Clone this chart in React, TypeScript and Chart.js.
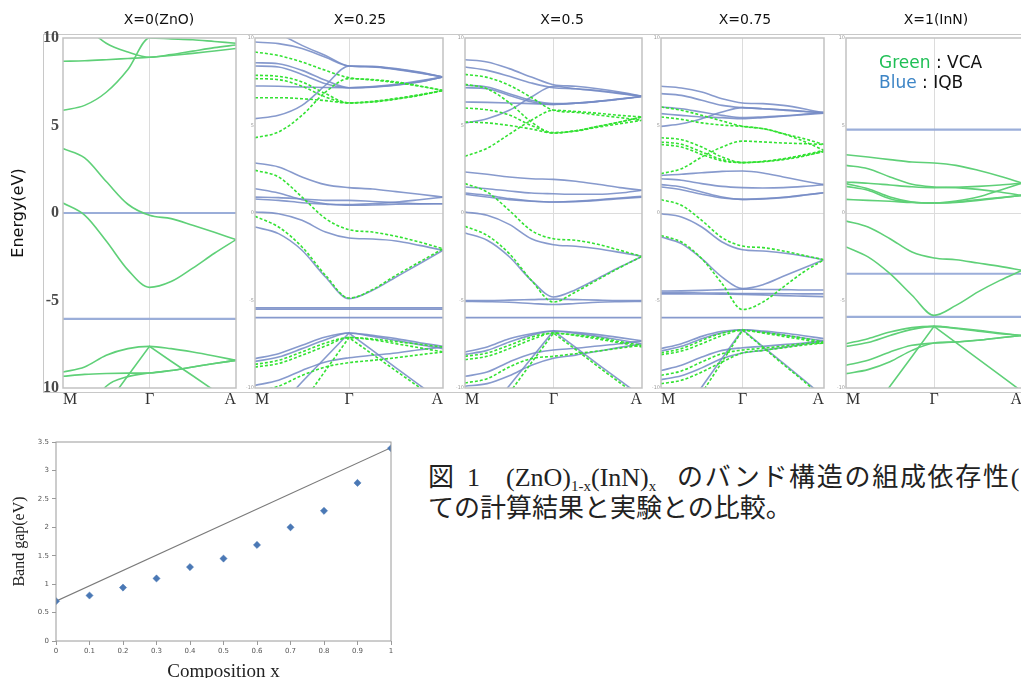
import React, { useEffect, useRef } from 'react';
import { Chart, registerables } from 'chart.js';

Chart.register(...registerables);

// ---------------- data ----------------
const kPoints = [0, 0.25, 0.5, 0.75, 1, 1.25, 1.5, 1.75, 2];
const kTickLabels = ['M', 'Γ', 'A'];
const energyTicks = [-10, -5, 0, 5, 10];
const panelTitles = ['X=0(ZnO)', 'X=0.25', 'X=0.5', 'X=0.75', 'X=1(InN)'];

// X = 0 (ZnO)
const x000Vca = [
  [5.87, 6.15, 6.9, 8.2, 10.0, 9.95, 9.9, 9.8, 9.7],
  [8.67, 8.7, 8.76, 8.83, 8.9, 9.0, 9.12, 9.26, 9.4],
  [11.8, 10.7, 9.7, 9.2, 8.9, 9.05, 9.25, 9.45, 9.6],
  [3.68, 3.15, 1.8, 0.5, -0.13, -0.32, -0.7, -1.1, -1.52],
  [0.57, -0.12, -1.6, -3.25, -4.25, -3.92, -3.15, -2.3, -1.52],
  [-9.09, -8.8, -8.13, -7.75, -7.62, -7.75, -7.94, -8.17, -8.42],
  [-9.33, -9.22, -9.17, -9.15, -9.14, -9.0, -8.8, -8.6, -8.42],
  [-13.5, -11.6, -9.9, -9.35, -9.14, -9.0, -8.8, -8.6, -8.42],
];
const x000VcaSteep = [
  [-14, -12.7, -11, -9.3, -7.62, -8.47, -9.3, -10.15, -11],
];
const x000Iqb = [
  [0, 0, 0, 0, 0, 0, 0, 0, 0],
  [-6.05, -6.05, -6.05, -6.05, -6.05, -6.05, -6.05, -6.05, -6.05],
];
const x000IqbSteep: number[][] = [];

// X = 0.25
const x025Vca = [
  [9.2, 9.0, 8.63, 8.15, 7.73, 7.62, 7.49, 7.26, 7.0],
  [7.87, 7.81, 7.49, 6.82, 6.29, 6.34, 6.5, 6.72, 7.0],
  [7.68, 7.62, 7.24, 6.63, 6.29, 6.36, 6.52, 6.74, 7.0],
  [6.59, 6.59, 6.53, 6.42, 6.29, 6.38, 6.55, 6.76, 7.0],
  [4.3, 4.63, 5.58, 6.91, 7.68, 7.6, 7.45, 7.25, 7.0],
  [2.44, 2.06, 0.91, -0.32, -0.95, -1.09, -1.33, -1.66, -2.04],
  [-0.19, -0.8, -1.94, -3.56, -4.86, -4.38, -3.56, -2.8, -2.04],
  [-8.65, -8.42, -7.94, -7.43, -7.12, -7.24, -7.47, -7.7, -7.94],
  [-8.8, -8.6, -8.13, -7.6, -7.12, -7.2, -7.35, -7.5, -7.66],
  [-10.2, -9.9, -9.28, -8.8, -8.55, -8.42, -8.27, -8.1, -7.94],
];
const x025VcaSteep = [
  [-14.7, -12.8, -10.9, -9.0, -7.12, -8.07, -9.02, -9.97, -10.9],
];
const x025Iqb = [
  [11.3, 10.3, 9.58, 9.0, 8.4, 8.35, 8.2, 8.0, 7.77],
  [9.77, 9.68, 9.4, 8.9, 8.4, 8.36, 8.22, 8.02, 7.77],
  [8.59, 8.53, 8.15, 7.58, 7.16, 7.2, 7.3, 7.49, 7.77],
  [8.4, 8.34, 7.92, 7.39, 7.16, 7.19, 7.31, 7.5, 7.77],
  [7.26, 7.24, 7.2, 7.17, 7.16, 7.22, 7.35, 7.55, 7.77],
  [5.39, 5.58, 6.15, 7.3, 8.4, 8.38, 8.25, 8.05, 7.77],
  [2.86, 2.63, 2.06, 1.62, 1.45, 1.37, 1.22, 1.07, 0.91],
  [1.39, 1.14, 0.76, 0.53, 0.48, 0.53, 0.62, 0.76, 0.91],
  [0.91, 0.88, 0.8, 0.72, 0.72, 0.66, 0.59, 0.53, 0.53],
  [0.8, 0.72, 0.59, 0.5, 0.44, 0.46, 0.5, 0.52, 0.53],
  [0.06, -0.04, -0.42, -1.09, -1.43, -1.49, -1.6, -1.85, -2.13],
  [-0.8, -1.18, -2.13, -3.66, -4.9, -4.42, -3.66, -2.9, -2.13],
  [-5.42, -5.42, -5.42, -5.42, -5.42, -5.42, -5.42, -5.42, -5.42],
  [-5.5, -5.5, -5.5, -5.5, -5.5, -5.5, -5.5, -5.5, -5.5],
  [-5.98, -5.98, -5.98, -5.98, -5.98, -5.98, -5.98, -5.98, -5.98],
  [-8.32, -8.04, -7.56, -7.09, -6.86, -6.99, -7.18, -7.41, -7.62],
  [-8.48, -8.23, -7.75, -7.24, -6.86, -7.05, -7.28, -7.52, -7.75],
  [-9.85, -9.56, -9.0, -8.51, -8.27, -8.13, -8.0, -7.81, -7.66],
];
const x025IqbSteep = [
  [-12.5, -11.1, -9.66, -8.26, -6.86, -7.85, -8.85, -9.84, -10.8],
];

// X = 0.5
const x050Vca = [
  [7.92, 7.75, 7.3, 6.6, 5.87, 5.75, 5.6, 5.45, 5.3],
  [7.35, 7.1, 6.3, 5.2, 4.57, 4.7, 4.95, 5.2, 5.49],
  [6.0, 5.9, 5.6, 5.0, 4.6, 4.68, 4.9, 5.1, 5.3],
  [5.2, 5.15, 5.0, 4.8, 4.57, 4.7, 4.95, 5.2, 5.49],
  [3.24, 3.7, 4.5, 5.3, 5.87, 5.8, 5.7, 5.58, 5.49],
  [1.68, 1.2, 0.15, -1.0, -1.47, -1.56, -1.79, -2.13, -2.48],
  [-0.76, -1.28, -2.32, -3.85, -5.09, -4.51, -3.81, -3.12, -2.48],
  [-8.19, -8.0, -7.56, -7.09, -6.86, -6.97, -7.12, -7.35, -7.56],
  [-8.38, -8.19, -7.75, -7.24, -6.86, -7.0, -7.2, -7.42, -7.66],
  [-9.71, -9.47, -8.8, -8.32, -8.19, -8.04, -7.89, -7.72, -7.56],
];
const x050VcaSteep = [
  [-13.7, -12, -10.3, -8.56, -6.86, -7.8, -8.76, -9.7, -10.65],
];
const x050Iqb = [
  [8.76, 8.63, 8.25, 7.77, 7.33, 7.24, 7.1, 6.91, 6.67],
  [8.34, 8.15, 7.81, 7.43, 7.16, 7.1, 6.97, 6.82, 6.67],
  [7.3, 7.2, 6.82, 6.44, 6.25, 6.29, 6.38, 6.51, 6.67],
  [7.16, 7.1, 6.72, 6.36, 6.21, 6.27, 6.37, 6.5, 6.67],
  [6.34, 6.32, 6.29, 6.25, 6.21, 6.27, 6.38, 6.52, 6.64],
  [5.14, 5.39, 5.87, 6.63, 7.24, 7.1, 7.0, 6.85, 6.67],
  [2.34, 2.21, 2.06, 1.96, 1.92, 1.81, 1.64, 1.45, 1.3],
  [1.49, 1.39, 1.26, 1.14, 1.1, 1.07, 1.07, 1.14, 1.3],
  [1.14, 1.01, 0.82, 0.69, 0.63, 0.67, 0.76, 0.86, 0.95],
  [1.07, 0.91, 0.76, 0.67, 0.63, 0.65, 0.72, 0.82, 0.91],
  [0.06, -0.13, -0.65, -1.47, -1.81, -1.9, -2.04, -2.25, -2.48],
  [-1.14, -1.56, -2.5, -3.85, -4.8, -4.38, -3.75, -3.09, -2.48],
  [-5.0, -5.0, -4.98, -4.95, -4.92, -4.95, -4.98, -5.0, -5.0],
  [-5.05, -5.07, -5.1, -5.17, -5.23, -5.17, -5.1, -5.07, -5.05],
  [-5.98, -5.98, -5.98, -5.98, -5.98, -5.98, -5.98, -5.98, -5.98],
  [-7.94, -7.66, -7.18, -6.9, -6.74, -6.82, -6.95, -7.12, -7.31],
  [-8.08, -7.85, -7.37, -6.98, -6.74, -6.88, -7.05, -7.26, -7.47],
  [-9.33, -9.09, -8.51, -8.04, -7.83, -7.73, -7.6, -7.47, -7.31],
  [-9.9, -9.75, -9.3, -8.7, -8.3, -8.12, -7.9, -7.68, -7.47],
];
const x050IqbSteep = [
  [-13, -11.4, -9.87, -8.3, -6.74, -7.68, -8.63, -9.57, -10.5],
];

// X = 0.75
const x075Vca = [
  [6.06, 5.87, 5.58, 5.26, 4.95, 4.82, 4.53, 4.25, 3.92],
  [5.49, 5.35, 5.15, 5.02, 4.95, 4.82, 4.53, 4.1, 3.58],
  [4.3, 4.19, 3.77, 3.2, 2.88, 2.93, 3.05, 3.24, 3.54],
  [4.06, 3.93, 3.49, 3.05, 2.88, 2.94, 3.08, 3.28, 3.5],
  [3.92, 3.77, 3.35, 2.98, 2.88, 2.95, 3.1, 3.32, 3.58],
  [2.25, 2.53, 3.2, 3.77, 4.11, 4.06, 4.0, 3.96, 3.92],
  [0.76, 0.44, -0.42, -1.41, -1.89, -1.98, -2.17, -2.42, -2.67],
  [-1.28, -1.66, -2.61, -4.04, -5.52, -5.09, -4.23, -3.37, -2.67],
  [-8.0, -7.75, -7.28, -6.86, -6.7, -6.82, -6.97, -7.16, -7.37],
  [-8.1, -7.89, -7.47, -7.0, -6.7, -6.86, -7.05, -7.24, -7.43],
  [-9.28, -9.03, -8.51, -8.04, -7.83, -7.73, -7.6, -7.47, -7.43],
  [-9.75, -9.56, -9.09, -8.51, -8.0, -7.85, -7.7, -7.55, -7.43],
];
const x075VcaSteep = [
  [-13.9, -12.1, -10.3, -8.5, -6.7, -7.67, -8.65, -9.6, -10.6],
];
const x075Iqb = [
  [7.24, 7.14, 6.91, 6.53, 6.29, 6.25, 6.15, 5.96, 5.71],
  [6.82, 6.72, 6.44, 6.15, 6.02, 5.96, 5.9, 5.81, 5.71],
  [6.06, 5.96, 5.77, 5.58, 5.45, 5.49, 5.55, 5.64, 5.75],
  [5.68, 5.58, 5.49, 5.45, 5.39, 5.45, 5.53, 5.62, 5.71],
  [4.95, 5.1, 5.39, 5.77, 6.02, 5.96, 5.88, 5.8, 5.75],
  [2.15, 2.21, 2.3, 2.38, 2.4, 2.29, 2.06, 1.83, 1.62],
  [1.96, 1.87, 1.68, 1.52, 1.45, 1.43, 1.45, 1.52, 1.62],
  [1.62, 1.49, 1.2, 0.91, 0.78, 0.8, 0.88, 1.01, 1.16],
  [1.49, 1.33, 1.07, 0.86, 0.78, 0.82, 0.9, 1.03, 1.16],
  [-0.04, -0.23, -0.8, -1.66, -2.1, -2.17, -2.29, -2.46, -2.67],
  [-1.37, -1.75, -2.61, -3.66, -4.32, -4.1, -3.62, -3.14, -2.67],
  [-4.46, -4.45, -4.42, -4.38, -4.35, -4.37, -4.38, -4.4, -4.4],
  [-4.55, -4.55, -4.57, -4.58, -4.6, -4.6, -4.61, -4.62, -4.62],
  [-4.62, -4.62, -4.63, -4.64, -4.65, -4.68, -4.72, -4.75, -4.78],
  [-5.98, -5.98, -5.98, -5.98, -5.98, -5.98, -5.98, -5.98, -5.98],
  [-7.75, -7.47, -7.05, -6.76, -6.67, -6.74, -6.86, -7.01, -7.18],
  [-7.89, -7.62, -7.18, -6.84, -6.67, -6.8, -6.97, -7.14, -7.31],
  [-9.0, -8.7, -8.23, -7.85, -7.7, -7.62, -7.52, -7.43, -7.31],
  [-9.52, -9.3, -8.85, -8.32, -8.0, -7.85, -7.68, -7.5, -7.31],
];
const x075IqbSteep = [
  [-13.2, -11.6, -9.94, -8.3, -6.67, -7.63, -8.58, -9.54, -10.5],
];

// X = 1 (InN)
const x100Vca = [
  [3.33, 3.2, 3.05, 2.91, 2.86, 2.72, 2.44, 2.1, 1.71],
  [2.72, 2.53, 2.06, 1.64, 1.49, 1.45, 1.35, 1.2, 1.01],
  [1.77, 1.7, 1.6, 1.5, 1.45, 1.47, 1.52, 1.6, 1.71],
  [1.68, 1.39, 0.91, 0.63, 0.57, 0.69, 0.91, 1.3, 1.71],
  [1.52, 1.3, 0.82, 0.61, 0.57, 0.63, 0.76, 0.88, 1.01],
  [0.78, 0.72, 0.67, 0.6, 0.57, 0.6, 0.72, 0.86, 1.01],
  [-0.46, -0.8, -1.47, -2.23, -2.57, -2.67, -2.86, -3.05, -3.28],
  [-1.94, -2.51, -3.47, -4.7, -5.85, -5.28, -4.51, -3.85, -3.28],
  [-7.47, -7.18, -6.8, -6.55, -6.48, -6.57, -6.7, -6.86, -7.0],
  [-7.62, -7.4, -7.0, -6.65, -6.48, -6.6, -6.75, -6.9, -7.0],
  [-8.7, -8.42, -7.94, -7.56, -7.43, -7.37, -7.27, -7.13, -7.0],
  [-9.18, -8.95, -8.5, -7.85, -7.43, -7.37, -7.27, -7.13, -7.0],
];
const x100VcaSteep = [
  [-13.3, -11.6, -9.9, -8.2, -6.48, -7.41, -8.33, -9.26, -10.2],
];
const x100Iqb = [
  [4.76, 4.76, 4.76, 4.76, 4.76, 4.76, 4.76, 4.76, 4.76],
  [-3.47, -3.47, -3.47, -3.47, -3.47, -3.47, -3.47, -3.47, -3.47],
  [-5.94, -5.94, -5.94, -5.94, -5.94, -5.94, -5.94, -5.94, -5.94],
];
const x100IqbSteep: number[][] = [];

const panelBands = [
  { vca: x000Vca, vcaSteep: x000VcaSteep, iqb: x000Iqb, iqbSteep: x000IqbSteep },
  { vca: x025Vca, vcaSteep: x025VcaSteep, iqb: x025Iqb, iqbSteep: x025IqbSteep },
  { vca: x050Vca, vcaSteep: x050VcaSteep, iqb: x050Iqb, iqbSteep: x050IqbSteep },
  { vca: x075Vca, vcaSteep: x075VcaSteep, iqb: x075Iqb, iqbSteep: x075IqbSteep },
  { vca: x100Vca, vcaSteep: x100VcaSteep, iqb: x100Iqb, iqbSteep: x100IqbSteep },
];

// Band gap vs composition
const compositionX = [0, 0.1, 0.2, 0.3, 0.4, 0.5, 0.6, 0.7, 0.8, 0.9, 1.0];
const bandGapValues = [0.7, 0.8, 0.94, 1.1, 1.3, 1.45, 1.69, 2.0, 2.29, 2.78, 3.39];
const linearX = [0, 1];
const linearGap = [0.7, 3.4];
const compositionTicks = [0, 0.1, 0.2, 0.3, 0.4, 0.5, 0.6, 0.7, 0.8, 0.9, 1];
const gapTicks = [0, 0.5, 1, 1.5, 2, 2.5, 3, 3.5];

// ---------------- layout / style ----------------
const SERIF = "'Liberation Serif', 'DejaVu Serif', serif";
const SANS = "'DejaVu Sans', sans-serif";
const BLUE = 'rgba(118,140,198,0.88)';
const BLUE_FLAT_LIGHT = 'rgba(150,170,215,0.95)';
const GREEN_DASH = '#33e233';
const GREEN_SOLID = '#5fd078';
const GRID = '#dcdcdc';

const PLOT_TOP = 38;
const PLOT_BOTTOM = 388;
const PAD_TOP = 16;
const PAD_RIGHT = 6;
const X_AXIS_H = 30;

const panelLayout = [
  { left: 63, right: 236, axisW: 63, big: true, dashed: false, lightIqb: true },
  { left: 255, right: 443, axisW: 14, big: false, dashed: true, lightIqb: false },
  { left: 465, right: 642, axisW: 14, big: false, dashed: true, lightIqb: false },
  { left: 661, right: 824, axisW: 14, big: false, dashed: true, lightIqb: false },
  { left: 846, right: 1022, axisW: 14, big: false, dashed: false, lightIqb: true },
];
const titleCenters = [159, 360, 562, 745, 936];

const framePlugin = {
  id: 'frame',
  afterDatasetsDraw(chart: any, _args: any, opts: any) {
    const { ctx, chartArea: a } = chart;
    ctx.save();
    ctx.strokeStyle = opts.color || '#c4c4c4';
    ctx.lineWidth = opts.width || 1;
    ctx.strokeRect(a.left, a.top, a.right - a.left, a.bottom - a.top);
    ctx.restore();
  },
};

function BandPanel({ index }: { index: number }) {
  const ref = useRef<HTMLCanvasElement>(null);
  const L = panelLayout[index];
  const w = L.axisW + (L.right - L.left) + PAD_RIGHT;
  const h = PAD_TOP + (PLOT_BOTTOM - PLOT_TOP) + X_AXIS_H;

  useEffect(() => {
    const bands = panelBands[index];
    const toPts = (b: number[]) => kPoints.map((k, i) => ({ x: k, y: b[i] }));
    const green = L.dashed ? GREEN_DASH : GREEN_SOLID;
    const datasets: any[] = [];
    bands.vca.forEach((b) =>
      datasets.push({
        data: toPts(b), borderColor: green, borderWidth: 1.6,
        borderDash: L.dashed ? [3, 2] : [], cubicInterpolationMode: 'monotone', pointRadius: 0,
      })
    );
    bands.vcaSteep.forEach((b) =>
      datasets.push({
        data: toPts(b), borderColor: green, borderWidth: 1.6,
        borderDash: L.dashed ? [3, 2] : [], tension: 0, pointRadius: 0,
      })
    );
    bands.iqb.forEach((b) => {
      const flat = b.every((v) => v === b[0]);
      datasets.push({
        data: toPts(b),
        borderColor: flat && L.lightIqb ? BLUE_FLAT_LIGHT : BLUE,
        borderWidth: flat && L.lightIqb ? 2.2 : 1.6,
        cubicInterpolationMode: 'monotone', pointRadius: 0,
      });
    });
    bands.iqbSteep.forEach((b) =>
      datasets.push({ data: toPts(b), borderColor: BLUE, borderWidth: 1.6, tension: 0, pointRadius: 0 })
    );

    const chart = new Chart(ref.current as HTMLCanvasElement, {
      type: 'line',
      data: { datasets },
      plugins: [framePlugin],
      options: {
        animation: false,
        responsive: false,
        maintainAspectRatio: false,
        events: [],
        layout: { padding: { top: PAD_TOP, right: PAD_RIGHT, left: 0, bottom: 0 } },
        plugins: {
          legend: { display: false },
          tooltip: { enabled: false },
          frame: { color: '#c2c2c2', width: 1.5 },
        } as any,
        scales: {
          x: {
            type: 'linear',
            min: 0,
            max: 2,
            afterBuildTicks: (s: any) => { s.ticks = [0, 1, 2].map((v) => ({ value: v })); },
            afterFit: (s: any) => { s.height = X_AXIS_H; },
            ticks: {
              callback: (v: any) => kTickLabels[Math.round(Number(v))],
              align: 'inner',
              padding: 2,
              maxRotation: 0,
              autoSkip: false,
              font: { family: SERIF, size: 16 },
              color: '#333',
            },
            grid: {
              color: (c: any) => (c.tick && c.tick.value === 1 ? GRID : 'rgba(0,0,0,0)'),
              drawTicks: false,
              lineWidth: 1,
            },
            border: { display: false },
          },
          y: {
            type: 'linear',
            min: -10,
            max: 10,
            afterBuildTicks: (s: any) => { s.ticks = energyTicks.map((v) => ({ value: v })); },
            afterFit: (s: any) => { s.width = L.axisW; },
            ticks: L.big
              ? {
                  callback: (v: any) => (Number(v) === -10 ? '10' : String(v)),
                  padding: 4,
                  font: { family: SERIF, size: 16, weight: 'bold' },
                  color: '#4a4a4a',
                }
              : {
                  callback: (v: any) => String(v),
                  padding: 1,
                  font: { family: SANS, size: 5 },
                  color: '#999',
                },
            grid: {
              color: (c: any) => (c.tick && c.tick.value === 0 ? GRID : 'rgba(0,0,0,0)'),
              drawTicks: false,
              lineWidth: 1,
            },
            border: { display: false },
            title: L.big
              ? {
                  display: true,
                  text: 'Energy(eV)',
                  font: { family: SANS, size: 16 },
                  color: '#111',
                  padding: { top: 9, bottom: 0 },
                }
              : { display: false },
          },
        } as any,
      },
    });
    return () => chart.destroy();
  }, [index]);

  return (
    <canvas
      ref={ref}
      width={w}
      height={h}
      style={{
        position: 'absolute',
        left: L.left - L.axisW,
        top: PLOT_TOP - PAD_TOP,
        width: w,
        height: h,
      }}
    />
  );
}

function GapChart() {
  const ref = useRef<HTMLCanvasElement>(null);
  const W = 401;
  const H = 253;
  useEffect(() => {
    const chart = new Chart(ref.current as HTMLCanvasElement, {
      type: 'scatter',
      data: {
        datasets: [
          {
            data: compositionX.map((x, i) => ({ x, y: bandGapValues[i] })),
            pointStyle: 'rectRot',
            pointRadius: 3.6,
            backgroundColor: '#4a78b5',
            borderColor: '#4a78b5',
            borderWidth: 0.5,
          },
          {
            data: linearX.map((x, i) => ({ x, y: linearGap[i] })),
            showLine: true,
            borderColor: '#7a7a7a',
            borderWidth: 1.1,
            pointRadius: 0,
          },
        ] as any,
      },
      plugins: [framePlugin],
      options: {
        animation: false,
        responsive: false,
        maintainAspectRatio: false,
        events: [],
        layout: { padding: { top: 12, right: 10, left: 0, bottom: 0 } },
        plugins: {
          legend: { display: false },
          tooltip: { enabled: false },
          frame: { color: '#9a9a9a', width: 1 },
        } as any,
        scales: {
          x: {
            type: 'linear',
            min: 0,
            max: 1,
            afterBuildTicks: (s: any) => { s.ticks = compositionTicks.map((v) => ({ value: v })); },
            afterFit: (s: any) => { s.height = 42; },
            ticks: {
              callback: (v: any) => String(Math.round(Number(v) * 10) / 10),
              padding: 2,
              maxRotation: 0,
              autoSkip: false,
              font: { family: SANS, size: 7 },
              color: '#555',
            },
            grid: { drawOnChartArea: false, drawTicks: true, tickLength: 4, color: '#9a9a9a' },
            border: { display: false },
            title: {
              display: true,
              text: 'Composition x',
              font: { family: SERIF, size: 19 },
              color: '#222',
              padding: { top: 0, bottom: 0 },
            },
          },
          y: {
            type: 'linear',
            min: 0,
            max: 3.5,
            afterBuildTicks: (s: any) => { s.ticks = gapTicks.map((v) => ({ value: v })); },
            afterFit: (s: any) => { s.width = 56; },
            ticks: {
              callback: (v: any) => String(v),
              padding: 3,
              font: { family: SANS, size: 7 },
              color: '#555',
            },
            grid: { drawOnChartArea: false, drawTicks: true, tickLength: 4, color: '#9a9a9a' },
            border: { display: false },
            title: {
              display: true,
              text: 'Band gap(eV)',
              font: { family: SERIF, size: 16 },
              color: '#222',
              padding: { top: 10, bottom: 0 },
            },
          },
        } as any,
      },
    });
    return () => chart.destroy();
  }, []);
  return (
    <canvas
      ref={ref}
      width={W}
      height={H}
      style={{ position: 'absolute', left: 0, top: 430, width: W, height: H }}
    />
  );
}

const captionFont = `26px ${SERIF.replace('serif', "'Noto Sans CJK JP', serif")}`;

export default function App() {
  const subStyle: React.CSSProperties = { fontSize: 15, position: 'relative', top: 5 };
  return (
    <div
      style={{
        position: 'absolute', left: 0, top: 0, width: 1021, height: 678,
        overflow: 'hidden', background: '#ffffff',
      }}
    >
      <div
        style={{
          position: 'absolute', left: 43, top: 34, width: 1000, height: 358.5,
          border: '1.5px solid #c8c8c8', boxSizing: 'border-box',
        }}
      />
      {panelLayout.map((_, i) => (
        <BandPanel key={i} index={i} />
      ))}
      {panelTitles.map((t, i) => (
        <div
          key={t}
          style={{
            position: 'absolute', left: titleCenters[i] - 100, width: 200, top: 10,
            textAlign: 'center', font: `14px ${SANS}`, lineHeight: '18px', color: '#111',
          }}
        >
          {t}
        </div>
      ))}
      <div
        style={{
          position: 'absolute', left: 879, top: 52, font: `17px ${SANS}`,
          lineHeight: '20px', color: '#111', whiteSpace: 'pre',
        }}
      >
        <div><span style={{ color: '#1fbf55' }}>Green</span> : VCA</div>
        <div><span style={{ color: '#3d85c6' }}>Blue</span> : IQB</div>
      </div>
      <GapChart />
      <div
        style={{
          position: 'absolute', left: 428, top: 462, font: captionFont,
          lineHeight: '32px', color: '#222', whiteSpace: 'pre',
        }}
      >
        {'図  1\u3000(ZnO)'}
        <span style={subStyle}>1-x</span>
        {'(InN)'}
        <span style={subStyle}>x</span>
      </div>
      <div
        style={{
          position: 'absolute', left: 677, top: 462, font: captionFont,
          lineHeight: '32px', color: '#222', whiteSpace: 'pre', letterSpacing: '1.7px',
        }}
      >
        {'のバンド構造の組成依存性('}
      </div>
      <div
        style={{
          position: 'absolute', left: 428, top: 493, font: captionFont,
          lineHeight: '32px', color: '#222', whiteSpace: 'pre',
        }}
      >
        {'ての計算結果と実験との比較。'}
      </div>
    </div>
  );
}
